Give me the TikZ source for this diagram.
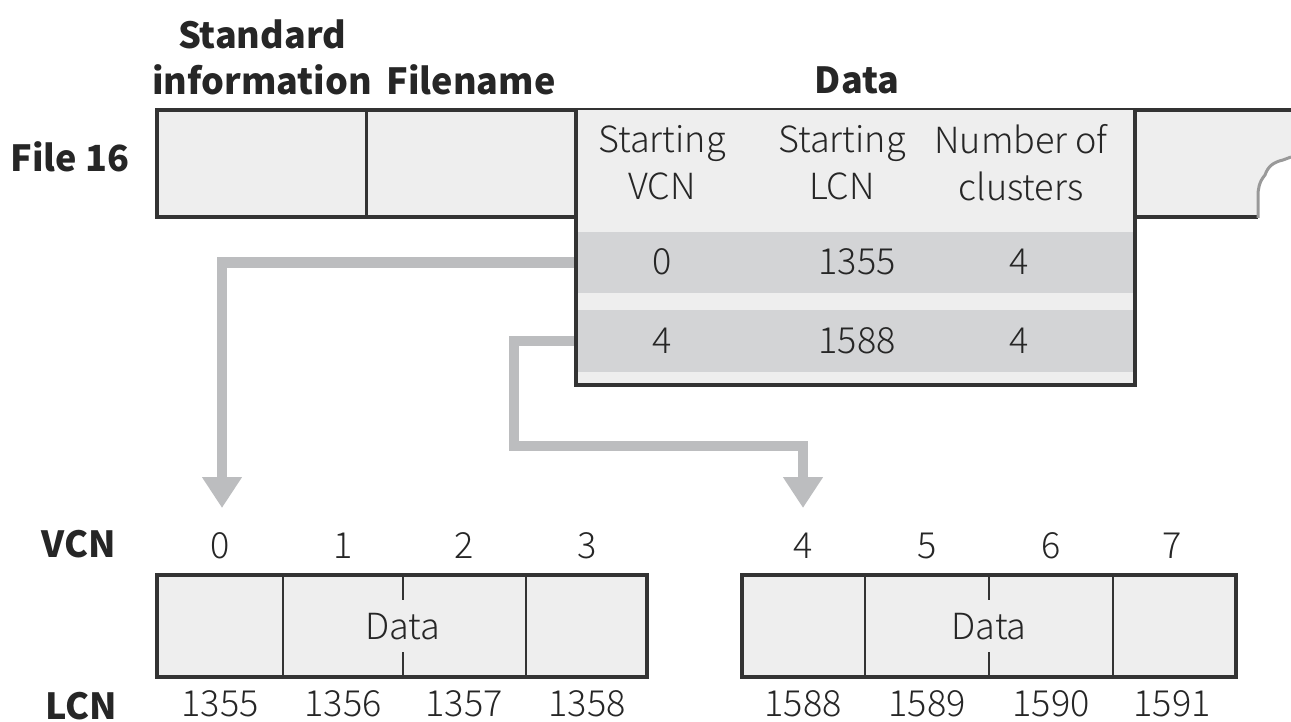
\documentclass[tikz,border=0pt]{standalone}
\usepackage{fontspec}
\setmainfont{Noto Sans CJK KR}
\IfFontExistsTF{Noto Sans CJK KR Light}
  {\newfontfamily\thinfont{Noto Sans CJK KR Light}}
  {\newfontfamily\thinfont{Noto Sans CJK KR}}
\usetikzlibrary{arrows.meta,calc,backgrounds}
\definecolor{bord}{HTML}{333333}
\definecolor{cellfill}{HTML}{EEEEEE}
\definecolor{rowfill}{HTML}{D3D4D6}
\definecolor{arrowgray}{HTML}{BCBDBF}
\definecolor{torn}{HTML}{999999}
\definecolor{txt}{HTML}{262626}
\begin{document}
\begin{tikzpicture}[x=1pt,y=-1pt,
  lbl/.style={font=\fontsize{36}{46}\selectfont\bfseries, text=txt, inner sep=0pt, align=center},
  val/.style={font=\thinfont\fontsize{36}{47}\selectfont, text=txt, inner sep=0pt, align=center},
  flow/.style={draw=arrowgray, line width=10.5pt, line join=miter, -{Triangle[width=38pt,length=31pt]}},
  outer/.style={draw=bord, line width=4pt},
  inner/.style={draw=bord, line width=2.5pt},
  row/.style={fill=rowfill, inner sep=0pt, minimum width=559pt, anchor=north west}
]
\useasboundingbox (0,0) rectangle (1291,722);

% ---------- labels ----------
\node[lbl] (stdinfo) at (262,57) {Standard\\information};
\node[lbl] (fname) at (471,80) {Filename};
\node[lbl] (datalbl) at (857,80) {Data};
\node[lbl] (file16) at (70,157) {File 16};
\node[lbl] (vcnlbl) at (79,544) {VCN};
\node[lbl] (lcnlbl) at (81,706) {LCN};

% ---------- file record ----------
\fill[cellfill] (157,110) -- (1291,110) -- (1291,157) -- (1283,160)
  .. controls (1274,162) and (1268,166) .. (1265,175)
  .. controls (1259,182) and (1258,189) .. (1258,196) -- (1258,217) -- (157,217) -- cycle;
\draw[outer] (1291,110) -- (157,110) -- (157,217) -- (576,217);
\draw[outer] (1135,217) -- (1258,217);
\draw[draw=bord, line width=3pt] (366,110) -- (366,217);
\draw[draw=torn, line width=3pt] (1291,157) -- (1283,160)
  .. controls (1274,162) and (1268,166) .. (1265,175)
  .. controls (1259,182) and (1258,189) .. (1258,196) -- (1258,218);

% ---------- run table ----------
\fill[cellfill] (576,110) rectangle (1135,385);
\node[row, minimum height=61pt] (r1) at (576,232) {};
\node[row, minimum height=62pt] (r2) at (576,310) {};
\draw[outer] (576,110) -- (576,385) -- (1135,385) -- (1135,110);

\node[val] (h1) at (662,163) {Starting\\VCN};
\node[val] (h2) at (842,163) {Starting\\LCN};
\node[val] (h3) at (1021,163) {Number of\\clusters};

\node[val] (r1a) at (662,262) {0};
\node[val] (r1b) at (857,262) {1355};
\node[val] (r1c) at (1019,262) {4};
\node[val] (r2a) at (662,341) {4};
\node[val] (r2b) at (857,341) {1588};
\node[val] (r2c) at (1019,341) {4};

% ---------- cluster runs ----------
\draw[outer, fill=cellfill] (157,575) rectangle (647,677);
\draw[inner] (283,575) -- (283,677);
\draw[inner] (526,575) -- (526,677);
\draw[inner] (403,575) -- (403,600);
\draw[inner] (403,652) -- (403,677);
\node[val] (d1) at (403,627) {Data};

\draw[outer, fill=cellfill] (742,575) rectangle (1236,677);
\draw[inner] (865,575) -- (865,677);
\draw[inner] (1113,575) -- (1113,677);
\draw[inner] (989,575) -- (989,600);
\draw[inner] (989,652) -- (989,677);
\node[val] (d2) at (989,627) {Data};

\node[val] (v0) at (220,546) {0};
\node[val] (v1) at (343,546) {1};
\node[val] (v2) at (464,546) {2};
\node[val] (v3) at (587,546) {3};
\node[val] (v4) at (803,546) {4};
\node[val] (v5) at (927,546) {5};
\node[val] (v6) at (1051,546) {6};
\node[val] (v7) at (1172,546) {7};

\node[val] (l0) at (220,704) {1355};
\node[val] (l1) at (343,704) {1356};
\node[val] (l2) at (464,704) {1357};
\node[val] (l3) at (587,704) {1358};
\node[val] (l4) at (803,704) {1588};
\node[val] (l5) at (927,704) {1589};
\node[val] (l6) at (1051,704) {1590};
\node[val] (l7) at (1172,704) {1591};

% ---------- arrows ----------
\coordinate (t1) at (222,508);
\coordinate (t2) at (803,508);
\coordinate (b2) at (514,446);
\begin{scope}[on background layer]
\draw[flow] (r1.west) -| (t1);
\draw[flow] (r2.west) -| (b2) -| (t2);
\end{scope}
\end{tikzpicture}
\end{document}
